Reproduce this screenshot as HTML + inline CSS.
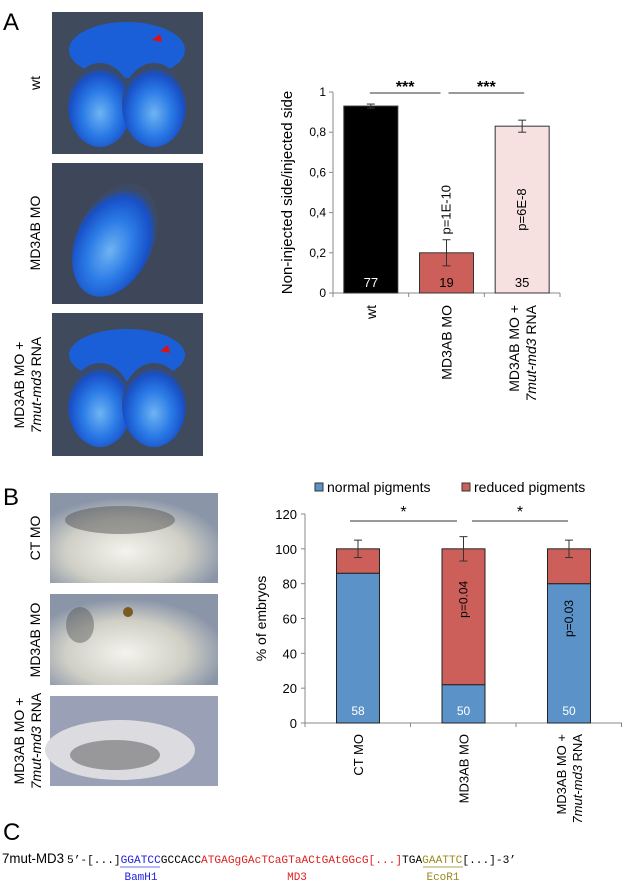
<!DOCTYPE html>
<html><head><meta charset="utf-8"><style>
body{margin:0;background:#fff;width:625px;height:885px;overflow:hidden;font-family:"Liberation Sans",sans-serif}
svg{display:block}
.mono{font-family:"Liberation Mono",monospace}
</style></head><body>
<svg id="fig" width="625" height="885" font-family="Liberation Sans, sans-serif">
<defs>
<radialGradient id="blueA" cx="50%" cy="60%" r="55%"><stop offset="0" stop-color="#6fb4f2"/><stop offset="0.5" stop-color="#2a7ae6"/><stop offset="0.85" stop-color="#1850c8"/><stop offset="1" stop-color="#3d4a62"/></radialGradient>
<radialGradient id="embr" cx="45%" cy="65%" r="60%"><stop offset="0" stop-color="#f4f4ee"/><stop offset="0.6" stop-color="#cfcfc6"/><stop offset="1" stop-color="#8a95a8"/></radialGradient>
</defs>
<text x="3" y="30" font-size="24">A</text>
<text x="3" y="505" font-size="24">B</text>
<text x="3" y="840" font-size="24">C</text>

<g><rect x="52" y="12" width="151" height="142" fill="#3f4a5c"/><ellipse cx="127" cy="50" rx="58" ry="28" fill="#1a5fd8"/><ellipse cx="100" cy="105" rx="32" ry="42" fill="url(#blueA)"/><ellipse cx="154" cy="105" rx="32" ry="42" fill="url(#blueA)"/><polygon points="160,34 152,40 162,42" fill="#e01010"/></g>
<g><rect x="52" y="163" width="151" height="141" fill="#3d4759"/><ellipse cx="115" cy="240" rx="38" ry="60" fill="url(#blueA)" transform="rotate(25 115 240)"/></g>
<g><rect x="52" y="313" width="151" height="143" fill="#3f4a5c"/><ellipse cx="127" cy="355" rx="58" ry="26" fill="#1a5fd8"/><ellipse cx="100" cy="405" rx="32" ry="42" fill="url(#blueA)"/><ellipse cx="154" cy="405" rx="32" ry="42" fill="url(#blueA)"/><polygon points="168,345 160,351 170,353" fill="#e01010"/></g>
<text transform="translate(40 83) rotate(-90)" text-anchor="middle" font-size="14">wt</text>
<text transform="translate(40 233) rotate(-90)" text-anchor="middle" font-size="14">MD3AB MO</text>
<text transform="translate(24 385) rotate(-90)" text-anchor="middle" font-size="14">MD3AB MO +</text>
<text transform="translate(41 385) rotate(-90)" text-anchor="middle" font-size="14"><tspan font-style="italic">7mut-md3</tspan> RNA</text>

<g><rect x="50" y="493" width="168" height="90" fill="url(#embr)"/><ellipse cx="120" cy="520" rx="55" ry="14" fill="#555" opacity="0.5"/></g>
<g><rect x="50" y="594" width="168" height="91" fill="url(#embr)"/><ellipse cx="80" cy="625" rx="14" ry="18" fill="#555" opacity="0.45"/><circle cx="128" cy="612" r="5" fill="#7a5a20"/></g>
<g><rect x="50" y="696" width="168" height="90" fill="#9aa0b6"/><ellipse cx="120" cy="750" rx="75" ry="30" fill="#dcdce0"/><ellipse cx="115" cy="755" rx="45" ry="15" fill="#444" opacity="0.45"/></g>
<text transform="translate(40 538) rotate(-90)" text-anchor="middle" font-size="14">CT MO</text>
<text transform="translate(40 640) rotate(-90)" text-anchor="middle" font-size="14">MD3AB MO</text>
<text transform="translate(24 741) rotate(-90)" text-anchor="middle" font-size="14">MD3AB MO +</text>
<text transform="translate(41 741) rotate(-90)" text-anchor="middle" font-size="14"><tspan font-style="italic">7mut-md3</tspan> RNA</text>

<g id="chartA"></g>
<g id="chartB"></g>

<g>
<text x="2" y="863" font-size="14" textLength="62" lengthAdjust="spacingAndGlyphs">7mut-MD3</text>
<text x="67" y="863" class="mono" font-size="11" textLength="449" lengthAdjust="spacingAndGlyphs" xml:space="preserve"><tspan fill="#000">5’-[...]</tspan><tspan fill="#2020e0">GGATCC</tspan><tspan fill="#000">GCCACC</tspan><tspan fill="#e02020">ATGAGgGAcTCaGTaACtGAtGGcG[...]</tspan><tspan fill="#000">TGA</tspan><tspan fill="#9a8a20">GAATTC</tspan><tspan fill="#000">[...]-3’</tspan></text>
<line x1="120" y1="867" x2="160" y2="867" stroke="#7070f0"/>
<line x1="423" y1="867" x2="463" y2="867" stroke="#b0a050"/>
<text x="141" y="880" text-anchor="middle" class="mono" font-size="11" fill="#2020e0">BamH1</text>
<text x="297" y="880" text-anchor="middle" class="mono" font-size="11" fill="#e02020">MD3</text>
<text x="443" y="880" text-anchor="middle" class="mono" font-size="11" fill="#9a8a20">EcoR1</text>
</g>
</svg>
<script>
const NS="http://www.w3.org/2000/svg";
function mk(p,t,a){const e=document.createElementNS(NS,t);for(const k in a)e.setAttribute(k,a[k]);p.appendChild(e);return e;}
// Chart A data
const catsA=["wt","MD3AB MO","MD3AB MO +"];
const valsA=[0.93,0.20,0.83];
const errA=[0.01,0.065,0.03];
const nA=["77","19","35"];
const pA=["","p=1E-10","p=6E-8"];
const ticksA=[0,0.2,0.4,0.6,0.8,1];
const tickLabA=["0","0,2","0,4","0,6","0,8","1"];
const colA=["#000000","#cd5f5a","#f7e0e0"];
// Chart B data
const catsB=["CT MO","MD3AB MO","MD3AB MO +"];
const normB=[86,22,80];
const redB=[14,78,20];
const errB=[5,7,5];
const nB=["58","50","50"];
const pB=["","p=0.04","p=0.03"];
const ticksB=[0,20,40,60,80,100,120];

(function(){
 const g=document.getElementById('chartA');
 const x0=333,x1=560,y0=293,y1=92;
 const y=v=>y0-(v/1)*(y0-y1);
 const step=(x1-x0)/catsA.length, bw=54;
 const cx=i=>x0+step*(i+0.5);
 const ax=mk(g,'line',{x1:x0,y1:y0,x2:x0,y2:y1,stroke:'#888'});
 
 const xa=mk(g,'line',{x1:x0,y1:y0,x2:x1,y2:y0,stroke:'#888'});
 
 ticksA.forEach((t,i)=>{mk(g,'line',{x1:x0-4,y1:y(t),x2:x0,y2:y(t),stroke:'#888'});
  const tl=mk(g,'text',{x:x0-7,y:y(t)+4,'text-anchor':'end','font-size':12});tl.textContent=tickLabA[i];
  });
 for(let i=0;i<=catsA.length;i++)mk(g,'line',{x1:x0+step*i,y1:y0,x2:x0+step*i,y2:y0+4,stroke:'#888'});
 catsA.forEach((c,i)=>{
  const r=mk(g,'rect',{x:cx(i)-bw/2,y:y(valsA[i]),width:bw,height:y0-y(valsA[i]),fill:colA[i],stroke:'#333'});
  
  const e=errA[i];const ex=cx(i);
  mk(g,'line',{x1:ex,y1:y(valsA[i]+e),x2:ex,y2:y(valsA[i]-e),stroke:'#333'});
  mk(g,'line',{x1:ex-4,y1:y(valsA[i]+e),x2:ex+4,y2:y(valsA[i]+e),stroke:'#333'});
  mk(g,'line',{x1:ex-4,y1:y(valsA[i]-e),x2:ex+4,y2:y(valsA[i]-e),stroke:'#333'});
  const n=mk(g,'text',{x:ex,y:y0-6,'text-anchor':'middle','font-size':13,fill:i==0?'#fff':'#000'});n.textContent=nA[i];
  
  if(pA[i]){const p=mk(g,'text',{transform:`translate(${ex+4} ${i==1?y(valsA[i]+e)-30:y(valsA[i]/2)}) rotate(-90)`,'text-anchor':'middle','font-size':13});p.textContent=pA[i];
   }
  const l=mk(g,'text',{transform:`translate(${ex+(i==2?-3:5)} ${y0+12}) rotate(-90)`,'text-anchor':'end','font-size':14});l.textContent=c;
  
 });
 const l2=mk(g,'text',{transform:`translate(${cx(2)+14} ${y0+12}) rotate(-90)`,'text-anchor':'end','font-size':14});
 l2.innerHTML='<tspan font-style="italic">7mut-md3</tspan> RNA';
 
 const t=mk(g,'text',{transform:`translate(292 ${(y0+y1)/2}) rotate(-90)`,'text-anchor':'middle','font-size':15});t.textContent='Non-injected side/injected side';
 
 [[cx(0)-1,cx(1)-6],[cx(1)+2,cx(2)+2]].forEach(s=>{mk(g,'line',{x1:s[0],y1:y(1)+1,x2:s[1],y2:y(1)+1,stroke:'#333'});
  const st=mk(g,'text',{x:(s[0]+s[1])/2,y:y(1)+0,'text-anchor':'middle','font-size':16,'font-weight':'bold'});st.textContent='***';
  });
})();
(function(){
 const g=document.getElementById('chartB');
 const x0=305,x1=622,y0=723,y1=514;
 const y=v=>y0-(v/120)*(y0-y1);
 const step=105.5,bw=43;
 const cx=i=>358+step*i;
 const ax=mk(g,'line',{x1:x0,y1:y0,x2:x0,y2:y1,stroke:'#888'});
 
 const xa=mk(g,'line',{x1:x0,y1:y0,x2:x1,y2:y0,stroke:'#888'});
 
 ticksB.forEach(t=>{mk(g,'line',{x1:x0-4,y1:y(t),x2:x0,y2:y(t),stroke:'#888'});
  const tl=mk(g,'text',{x:x0-8,y:y(t)+5,'text-anchor':'end','font-size':13});tl.textContent=t;
  });
 for(let i=0;i<=3;i++)mk(g,'line',{x1:x0+step*i,y1:y0,x2:x0+step*i,y2:y0+4,stroke:'#888'});
 catsB.forEach((c,i)=>{
  const ex=cx(i);
  const a=mk(g,'rect',{x:ex-bw/2,y:y(normB[i]),width:bw,height:y0-y(normB[i]),fill:'#5b93c9',stroke:'#222'});
  
  const b=mk(g,'rect',{x:ex-bw/2,y:y(normB[i]+redB[i]),width:bw,height:y(normB[i])-y(normB[i]+redB[i]),fill:'#cd5f5a',stroke:'#222'});
  
  const top=normB[i]+redB[i],e=errB[i];
  mk(g,'line',{x1:ex,y1:y(top+e),x2:ex,y2:y(top-e),stroke:'#333'});
  mk(g,'line',{x1:ex-4,y1:y(top+e),x2:ex+4,y2:y(top+e),stroke:'#333'});
  mk(g,'line',{x1:ex-4,y1:y(top-e),x2:ex+4,y2:y(top-e),stroke:'#333'});
  const n=mk(g,'text',{x:ex,y:y0-8,'text-anchor':'middle','font-size':12,fill:'#fff'});n.textContent=nB[i];
  
  if(pB[i]){const p=mk(g,'text',{transform:`translate(${ex+4} ${i==1?y(top/2+normB[i]/2+10):y(normB[i]/2+20)}) rotate(-90)`,'text-anchor':'middle','font-size':12});p.textContent=pB[i];
   }
  const l=mk(g,'text',{transform:`translate(${ex+(i==2?-3:5)} ${y0+11}) rotate(-90)`,'text-anchor':'end','font-size':13});l.textContent=c;
  
 });
 const l2=mk(g,'text',{transform:`translate(${cx(2)+13} ${y0+11}) rotate(-90)`,'text-anchor':'end','font-size':13});
 l2.innerHTML='<tspan font-style="italic">7mut-md3</tspan> RNA';
 
 const t=mk(g,'text',{transform:`translate(266 ${(y0+y1)/2}) rotate(-90)`,'text-anchor':'middle','font-size':14});t.textContent='% of embryos';
 
 [[350,457],[472,568]].forEach(s=>{mk(g,'line',{x1:s[0],y1:521,x2:s[1],y2:521,stroke:'#333'});
  const st=mk(g,'text',{x:(s[0]+s[1])/2,y:517,'text-anchor':'middle','font-size':16});st.textContent='*';
  });
 const lg1=mk(g,'rect',{x:315,y:483,width:8,height:8,fill:'#5b93c9',stroke:'#333'});
 
 const lt1=mk(g,'text',{x:327,y:492,'font-size':14});lt1.textContent='normal pigments';
 
 const lg2=mk(g,'rect',{x:462,y:483,width:8,height:8,fill:'#cd5f5a',stroke:'#333'});
 
 const lt2=mk(g,'text',{x:474,y:492,'font-size':14});lt2.textContent='reduced pigments';
 
})();
</script>
</body></html>
